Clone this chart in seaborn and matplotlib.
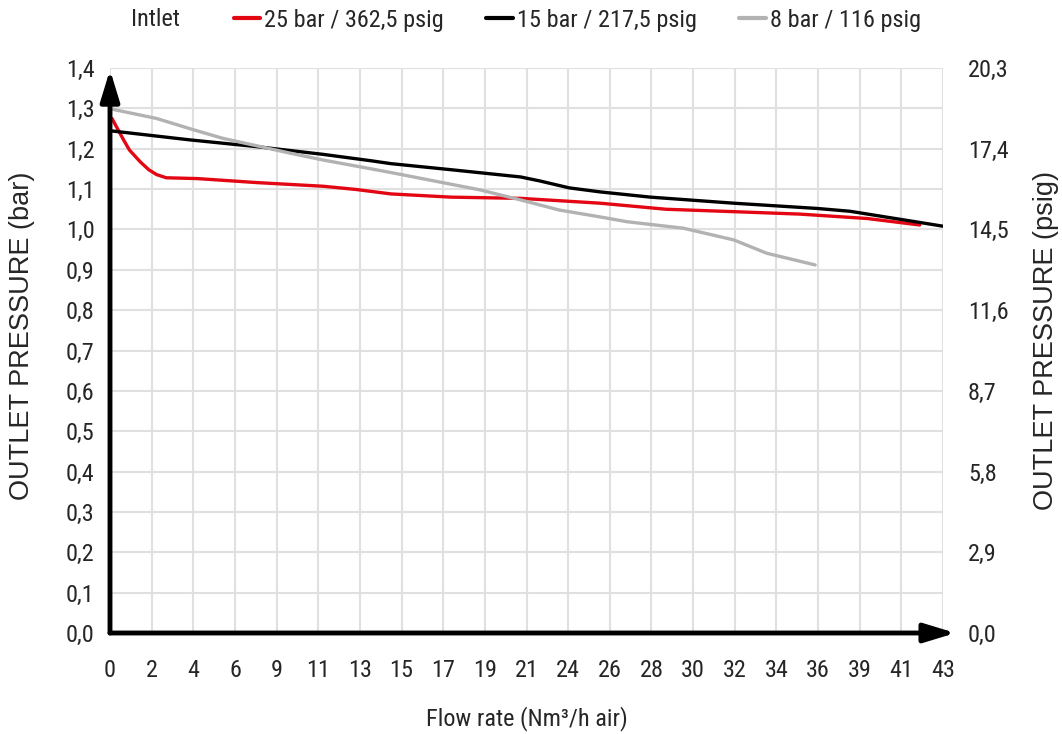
import numpy as np
import pandas as pd
import seaborn as sns
import matplotlib.pyplot as plt
from matplotlib import font_manager

sns.set_style("white")

# pick a condensed sans face if one is installed
cond_family, cond_stretch = None, 'normal'
entries = font_manager.fontManager.ttflist
for want in ["Liberation Sans Narrow", "Roboto Condensed", "Open Sans Condensed",
             "Noto Sans Condensed", "DejaVu Sans Condensed", "Arial Narrow"]:
    if any(f.name == want for f in entries):
        cond_family = want
        break
if cond_family is None:
    for f in entries:
        st = str(f.stretch).lower()
        if f.name in ("Roboto", "Noto Sans", "Open Sans", "DejaVu Sans", "Inter") and \
           (st in ("condensed", "semi-condensed", "extra-condensed") or
            (st.isdigit() and int(st) <= 400)) and f.style == 'normal':
            cond_family, cond_stretch = f.name, f.stretch
            break
if cond_family is None:
    cond_family = "Liberation Sans"
    small = 16
else:
    small = 17.5

plt.rcParams['font.family'] = [cond_family, 'DejaVu Sans']
plt.rcParams['font.stretch'] = cond_stretch

# ---- data (flow in Nm3/h, outlet pressure in bar) ----
x_tick_labels = ["0", "2", "4", "6", "9", "11", "13", "15", "17", "19", "21",
                 "24", "26", "28", "30", "32", "34", "36", "39", "41", "43"]
y_tick_labels = ["0,0", "0,1", "0,2", "0,3", "0,4", "0,5", "0,6", "0,7",
                 "0,8", "0,9", "1,0", "1,1", "1,2", "1,3", "1,4"]
psig_tick_labels = ["0,0", "2,9", "5,8", "8,7", "11,6", "14,5", "17,4", "20,3"]

red_flow = [0.1, 0.7, 1.0, 1.55, 2.0, 2.4, 2.9, 4.5, 7.6, 11.0, 12.7, 14.5, 17.6, 21.2, 25.3, 28.7, 32.2, 35.6, 39.1, 41.8]
red_p    = [1.275, 1.222, 1.197, 1.168, 1.148, 1.136, 1.128, 1.126, 1.116, 1.107, 1.099, 1.088, 1.080, 1.077, 1.065, 1.050, 1.044, 1.038, 1.027, 1.011]

black_flow = [0.1, 4.1, 7.6, 11.0, 13.5, 14.5, 17.6, 21.2, 22.2, 23.7, 25.3, 27.9, 32.2, 36.5, 38.2, 40.8, 43.0]
black_p    = [1.244, 1.222, 1.205, 1.186, 1.170, 1.163, 1.148, 1.130, 1.120, 1.103, 1.093, 1.080, 1.065, 1.052, 1.045, 1.025, 1.008]

gray_flow = [0.1, 2.4, 4.1, 5.8, 7.6, 9.3, 11.0, 12.7, 14.5, 19.1, 21.2, 23.2, 25.3, 26.7, 29.6, 32.2, 33.9, 36.4]
gray_p    = [1.298, 1.275, 1.250, 1.226, 1.207, 1.189, 1.172, 1.157, 1.141, 1.098, 1.073, 1.048, 1.031, 1.019, 1.003, 0.974, 0.941, 0.912]

series_names = ["25 bar / 362,5 psig", "15 bar / 217,5 psig", "8 bar / 116 psig"]
colors = ["#e30613", "#000000", "#b2b2b2"]

df = pd.concat([
    pd.DataFrame({"flow": red_flow, "p": red_p, "s": series_names[0]}),
    pd.DataFrame({"flow": black_flow, "p": black_p, "s": series_names[1]}),
    pd.DataFrame({"flow": gray_flow, "p": gray_p, "s": series_names[2]}),
])

fig = plt.figure(figsize=(10.62, 7.34), dpi=100)
ax = fig.add_axes([110/1062, 1-633/734, 833/1062, 565/734])

sns.lineplot(data=df, x="flow", y="p", hue="s", hue_order=series_names,
             palette=colors, linewidth=2.4, sort=False, estimator=None,
             ax=ax, legend=False, zorder=3)

xmax = 43.0
xticks = [i * xmax / 20 for i in range(21)]
ax.set_xlim(0, xmax)
ax.set_ylim(0, 1.4)
ax.set_xticks(xticks)
ax.set_xticklabels(x_tick_labels)
ax.set_yticks([i / 10 for i in range(15)])
ax.set_yticklabels(y_tick_labels)
ax.grid(True, color="#e0e0e0", linewidth=1.5, zorder=0)
ax.set_axisbelow(True)
for s in ax.spines.values():
    s.set_visible(False)
ax.tick_params(axis='x', direction='in', length=7, width=1.8, color='black',
               labelsize=small, pad=19)
ax.tick_params(axis='y', length=0, labelsize=small, pad=11)
ax.set_xlabel("Flow rate (Nm³/h air)", fontsize=small, labelpad=17)

label_font = ['Liberation Sans', 'DejaVu Sans']
ax.set_ylabel("OUTLET PRESSURE (bar)", fontsize=19.5, family=label_font)
ax.yaxis.label.set_verticalalignment('center')
ax.yaxis.label.set_stretch('normal')
ax.yaxis.set_label_coords(22/1062, 1-336/734, transform=fig.transFigure)

# arrows as axes
astyle = '-|>,head_length=1.05,head_width=0.32'
ax.annotate("", xy=(1.015, 0), xytext=(0, 0), xycoords='axes fraction',
            arrowprops=dict(arrowstyle=astyle, color='black', lw=3.5,
                            shrinkA=0, shrinkB=0, mutation_scale=18),
            annotation_clip=False, zorder=5)
ax.annotate("", xy=(0, 0.997), xytext=(0, 0), xycoords='axes fraction',
            arrowprops=dict(arrowstyle=astyle, color='black', lw=3.5,
                            shrinkA=0, shrinkB=0, mutation_scale=18),
            annotation_clip=False, zorder=5)

# right axis in psig
ax2 = ax.twinx()
ax2.set_ylim(0, 1.4 * 14.5)
ax2.set_yticks([i * 2.9 for i in range(8)])
ax2.set_yticklabels(psig_tick_labels)
for s in ax2.spines.values():
    s.set_visible(False)
ax2.tick_params(axis='y', length=0, labelsize=small, pad=18)
ax2.set_ylabel("OUTLET PRESSURE (psig)", fontsize=19.5, family=label_font)
ax2.yaxis.label.set_verticalalignment('center')
ax2.yaxis.label.set_stretch('normal')
ax2.yaxis.set_label_coords(1046/1062, 1-341/734, transform=fig.transFigure)
ax2.grid(False)

# legend
fig.text(155/1062, 1-20/734, "Intlet", fontsize=small, ha='center', va='center')
handles = [plt.Line2D([], [], color=c, lw=3) for c in colors]
fig.legend(handles, series_names, loc='center left', bbox_to_anchor=(224/1062, 1-20/734),
           ncol=3, frameon=False, fontsize=small, handlelength=1.1,
           handletextpad=0.15, columnspacing=1.75, borderaxespad=0)

fig.savefig("out.png", dpi=100)
